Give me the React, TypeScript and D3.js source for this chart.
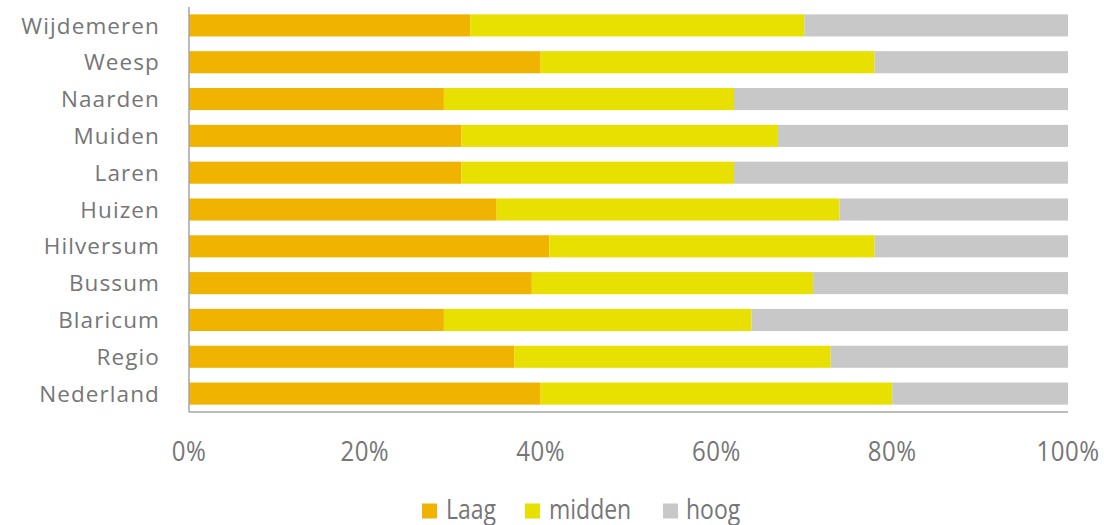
import React from "react";
import * as d3 from "d3";

const categories = ["Wijdemeren", "Weesp", "Naarden", "Muiden", "Laren", "Huizen", "Hilversum", "Bussum", "Blaricum", "Regio", "Nederland"];
const laag = [32, 40, 29, 31, 31, 35, 41, 39, 29, 37, 40];
const midden = [38, 38, 33, 36, 31, 39, 37, 32, 35, 36, 40];
const hoog = [30, 22, 38, 33, 38, 26, 22, 29, 36, 27, 20];
const seriesNames = ["Laag", "midden", "hoog"];
const seriesColors = ["#F0B400", "#E8E000", "#C8C8C8"];
const xTicks = [0, 0.2, 0.4, 0.6, 0.8, 1];

const W = 1104;
const H = 525;
const left = 189;
const right = 1068;
const top = 7;
const bottom = 412;
const FONT = "'Open Sans', 'Noto Sans', sans-serif";
const TEXT = "#767676";

export default function App() {
  const rows = categories.map((c, i) => {
    const total = laag[i] + midden[i] + hoog[i];
    return { cat: c, Laag: laag[i] / total, midden: midden[i] / total, hoog: hoog[i] / total };
  });
  const stack = d3.stack<any>().keys(seriesNames);
  const stacked = stack(rows);
  const x = d3.scaleLinear().domain([0, 1]).range([left, right]);
  const y = d3.scaleBand().domain(categories).range([top, bottom]).paddingInner(0.4).paddingOuter(0.2);
  const fmt = d3.format(".0%");

  const legendItems = [
    { sx: 422, tx: 446 },
    { sx: 525, tx: 549 },
    { sx: 663, tx: 686 },
  ];

  return (
    <svg width={W} height={H} style={{ position: "absolute", left: 0, top: 0, background: "#fff" }}>
      {stacked.map((s, si) => (
        <g key={si} fill={seriesColors[si]}>
          {s.map((d, i) => (
            <rect
              key={i}
              x={x(d[0])}
              y={y(categories[i])}
              width={x(d[1]) - x(d[0])}
              height={y.bandwidth()}
            />
          ))}
        </g>
      ))}
      <line x1={left} x2={left} y1={top} y2={bottom} stroke="#a6a6a6" strokeWidth={1.5} />
      <line x1={left} x2={right} y1={bottom} y2={bottom} stroke="#a6a6a6" strokeWidth={1.5} />
      {categories.map((c) => (
        <text
          key={c}
          x={160}
          y={(y(c) as number) + y.bandwidth() / 2}
          dy="0.36em"
          textAnchor="end"
          fontFamily={FONT}
          fontSize={22.5}
          letterSpacing={1.1}
          fill={TEXT}
        >
          {c}
        </text>
      ))}
      {xTicks.map((t) => (
        <text
          key={t}
          transform={`translate(${x(t)},${460.5}) scale(1,1.15)`}
          textAnchor="middle"
          fontFamily={FONT}
          fontSize={24}
          letterSpacing={0.5}
          fill={TEXT}
        >
          {fmt(t)}
        </text>
      ))}
      {seriesNames.map((n, i) => (
        <g key={n}>
          <rect x={legendItems[i].sx} y={503.5} width={15} height={15} fill={seriesColors[i]} />
          <text
            transform={`translate(${legendItems[i].tx},${519}) scale(1,1.15)`}
            fontFamily={FONT}
            fontSize={23}
            fill={TEXT}
          >
            {n}
          </text>
        </g>
      ))}
    </svg>
  );
}
